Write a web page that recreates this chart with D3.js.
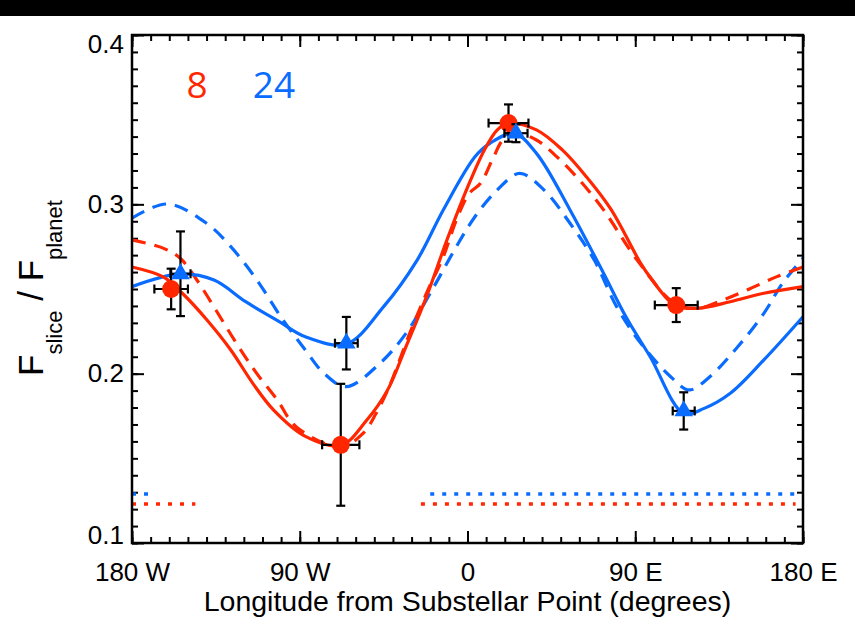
<!DOCTYPE html>
<html>
<head>
<meta charset="utf-8">
<script src="https://cdn.jsdelivr.net/npm/d3@7"></script>
<style>
  body { margin: 0; background: #fff; }
  svg { display: block; }
</style>
</head>
<body>
<div id="chart-area"></div>
<script>
// axis ticks / labels
const lonTicks = [-180, -90, 0, 90, 180];
const lonLabels = ["180 W", "90 W", "0", "90 E", "180 E"];
const fluxTicks = [0.1, 0.2, 0.3, 0.4];
const fluxLabels = ["0.1", "0.2", "0.3", "0.4"];

// measured slices (8 = red circles, 24 = blue triangles)
const lon8 = [-159, -68, 22, 112];
const flux8 = [0.250, 0.158, 0.348, 0.2405];
const lonErr8 = [9, 10, 10.7, 11.5];
const fluxErr8 = [0.012, 0.036, 0.011, 0.010];

const lon24 = [-154, -65, 26, 116];
const flux24 = [0.259, 0.218, 0.342, 0.178];
const lonErr24 = [5.4, 6.1, 6.2, 5.9];
const fluxErr24 = [0.025, 0.0155, 0.0053, 0.011];

// model curves
const redSolidLon = [-180, -163, -153, -140, -127, -115, -104, -87, -68, -54, -43, -33, -22, -11, 0, 9, 16, 22, 37, 51, 64, 77, 93, 98, 111, 123, 141, 159, 180];
const redSolidVal = [0.263, 0.257, 0.2475, 0.232, 0.214, 0.194, 0.1785, 0.163, 0.1576, 0.1726, 0.190, 0.216, 0.2455, 0.279, 0.310, 0.332, 0.344, 0.348, 0.344, 0.332, 0.316, 0.297, 0.265, 0.257, 0.2406, 0.2386, 0.2425, 0.2475, 0.2514];

const redDashLon = [-180, -163, -154, -145, -135, -124, -113, -102, -92, -68, -56, -49, -42, -31, -22, -13, -6, 1, 7, 14, 19, 26, 37, 48, 60, 73, 91, 111, 123, 137, 150, 166, 180];
const redDashVal = [0.279, 0.274, 0.268, 0.255, 0.2376, 0.218, 0.200, 0.1844, 0.1687, 0.1567, 0.1648, 0.1766, 0.1923, 0.2238, 0.2475, 0.269, 0.2907, 0.3065, 0.3124, 0.328, 0.338, 0.342, 0.338, 0.328, 0.3144, 0.2967, 0.2671, 0.2417, 0.2386, 0.2435, 0.2494, 0.2573, 0.263];

const blueSolidLon = [-180, -154, -136, -119, -101, -87, -65, -45, -27, -13, 4, 12, 25, 37, 55, 73, 85, 98, 116, 127, 141, 159, 180];
const blueSolidVal = [0.2514, 0.2589, 0.2553, 0.2425, 0.2307, 0.2218, 0.2175, 0.2396, 0.2671, 0.2967, 0.3281, 0.336, 0.3419, 0.3301, 0.2967, 0.2593, 0.2336, 0.210, 0.1766, 0.1795, 0.1884, 0.2081, 0.2336];

const blueDashLon = [-180, -161, -140, -127, -113, -99, -87, -77, -65, -47, -33, -18, -6, 4, 16, 28, 41, 55, 68, 80, 93, 109, 119, 130, 145, 159, 169, 180];
const blueDashVal = [0.2919, 0.3002, 0.2888, 0.275, 0.2553, 0.2317, 0.214, 0.2002, 0.1923, 0.2061, 0.2238, 0.2514, 0.275, 0.2927, 0.3085, 0.3183, 0.3085, 0.2888, 0.2671, 0.2396, 0.2179, 0.1982, 0.1904, 0.1982, 0.2159, 0.2356, 0.2534, 0.2681];

// dotted floor levels
const floor8 = 0.123;
const floor24 = 0.129;
const floorSpans8 = [[-180, -146], [-25, 176]];
const floorSpans24 = [[-180, -171], [-20, 180]];

const red = "#ff2600";
const blue = "#0a6cff";
const font = "'Liberation Sans', Arial, Helvetica, sans-serif";

const W = 855, H = 637;
const plot = { left: 132, right: 803, top: 35, bottom: 543 };

const svg = d3.select("#chart-area")
    .append("svg")
    .attr("width", W)
    .attr("height", H);

svg.append("rect").attr("width", W).attr("height", H).attr("fill", "#fff");
svg.append("rect").attr("width", W).attr("height", 16).attr("fill", "#000");

const x = d3.scaleLinear().domain([-180, 180]).range([plot.left, plot.right]);
const y = d3.scaleLinear().domain([0.1, 0.4]).range([plot.bottom, plot.top]);

const g = svg.append("g");

// ticks, all pointing inward
function tickAxis(axisFn, scale, values, size, tx, ty) {
    const a = g.append("g")
        .attr("transform", `translate(${tx},${ty})`)
        .call(axisFn(scale).tickValues(values).tickSize(-size).tickFormat(""));
    a.select(".domain").remove();
    a.selectAll("line").attr("stroke", "#000").attr("stroke-width", 2);
    return a;
}
const minorX = x.ticks(36);
const minorY = y.ticks(30);
tickAxis(d3.axisBottom, x, minorX, 6, 0, plot.bottom);
tickAxis(d3.axisTop, x, minorX, 6, 0, plot.top);
tickAxis(d3.axisLeft, y, minorY, 6, plot.left, 0);
tickAxis(d3.axisRight, y, minorY, 6, plot.right, 0);
tickAxis(d3.axisBottom, x, lonTicks, 12, 0, plot.bottom);
tickAxis(d3.axisTop, x, lonTicks, 12, 0, plot.top);
tickAxis(d3.axisLeft, y, fluxTicks, 12, plot.left, 0);
tickAxis(d3.axisRight, y, fluxTicks, 12, plot.right, 0);

// labels
const xLab = g.append("g")
    .attr("transform", `translate(0,${plot.bottom})`)
    .call(d3.axisBottom(x).tickValues(lonTicks).tickSize(0).tickPadding(20)
        .tickFormat((d, i) => lonLabels[i]));
xLab.select(".domain").remove();
xLab.selectAll("text").attr("font-family", font).attr("font-size", "26px").attr("fill", "#000");

const yLab = g.append("g")
    .attr("transform", `translate(${plot.left},0)`)
    .call(d3.axisLeft(y).tickValues(fluxTicks).tickSize(0).tickPadding(8)
        .tickFormat((d, i) => fluxLabels[i]));
yLab.select(".domain").remove();
yLab.selectAll("text").attr("font-family", font).attr("font-size", "26px").attr("fill", "#000")
    .attr("y", d => d === 0.4 ? 9 : d === 0.1 ? -8 : 0);

g.append("text")
    .attr("x", (plot.left + plot.right) / 2)
    .attr("y", 611)
    .attr("text-anchor", "middle")
    .attr("font-family", font)
    .attr("font-size", "28.5px")
    .text("Longitude from Substellar Point (degrees)");

const yTitle = g.append("text")
    .attr("transform", "translate(43,288) rotate(-90)")
    .attr("text-anchor", "middle")
    .attr("font-family", font);
yTitle.append("tspan").attr("font-size", "35px").text("F");
yTitle.append("tspan").attr("font-size", "22px").attr("dy", 19).text("slice");
yTitle.append("tspan").attr("font-size", "35px").attr("dy", -19).text(" / F");
yTitle.append("tspan").attr("font-size", "22px").attr("dy", 19).text("planet");

// legend numbers
g.append("text").attr("x", 197).attr("y", 98).attr("text-anchor", "middle")
    .attr("font-family", "'Open Sans', sans-serif").attr("font-size", "37px")
    .attr("fill", red).text("8");
g.append("text").attr("x", 274).attr("y", 98).attr("text-anchor", "middle")
    .attr("font-family", "'Open Sans', sans-serif").attr("font-size", "37px")
    .attr("fill", blue).text("24");

// dotted floors
const floors = [[floorSpans24, floor24, blue], [floorSpans8, floor8, red]];
floors.forEach(([spans, lvl, col]) => {
    g.selectAll(null).data(spans).enter()
        .append("line")
        .attr("x1", d => x(d[0])).attr("x2", d => x(d[1]))
        .attr("y1", y(lvl)).attr("y2", y(lvl))
        .attr("stroke", col).attr("stroke-width", 3.5)
        .attr("stroke-dasharray", "4,8");
});

// model curves
const line = d3.line()
    .x(d => x(d[0]))
    .y(d => y(d[1]))
    .curve(d3.curveCatmullRom.alpha(0.5));

const curves = [
    [blueDashLon, blueDashVal, blue, "14,9"],
    [redDashLon, redDashVal, red, "14,9"],
    [blueSolidLon, blueSolidVal, blue, null],
    [redSolidLon, redSolidVal, red, null]
];
curves.forEach(([lons, vals, col, dash]) => {
    g.append("path")
        .datum(d3.zip(lons, vals))
        .attr("d", line)
        .attr("fill", "none")
        .attr("stroke", col)
        .attr("stroke-width", 3.2)
        .attr("stroke-dasharray", dash);
});

// error bars + markers
function errorBars(lons, vals, lonErr, valErr) {
    const data = d3.zip(lons, vals, lonErr, valErr);
    const eb = g.append("g").attr("stroke", "#000").attr("stroke-width", 2.2);
    const cap = 4.5;
    data.forEach(([lo, v, el, ev]) => {
        const cx = x(lo), cy = y(v);
        eb.append("line").attr("x1", x(lo - el)).attr("x2", x(lo + el)).attr("y1", cy).attr("y2", cy);
        eb.append("line").attr("x1", cx).attr("x2", cx).attr("y1", y(v - ev)).attr("y2", y(v + ev));
        eb.append("line").attr("x1", x(lo - el)).attr("x2", x(lo - el)).attr("y1", cy - cap).attr("y2", cy + cap);
        eb.append("line").attr("x1", x(lo + el)).attr("x2", x(lo + el)).attr("y1", cy - cap).attr("y2", cy + cap);
        eb.append("line").attr("x1", cx - cap).attr("x2", cx + cap).attr("y1", y(v - ev)).attr("y2", y(v - ev));
        eb.append("line").attr("x1", cx - cap).attr("x2", cx + cap).attr("y1", y(v + ev)).attr("y2", y(v + ev));
    });
}

errorBars(lon8, flux8, lonErr8, fluxErr8);
g.selectAll(null).data(d3.zip(lon8, flux8)).enter()
    .append("circle")
    .attr("cx", d => x(d[0])).attr("cy", d => y(d[1]))
    .attr("r", 9)
    .attr("fill", red);

errorBars(lon24, flux24, lonErr24, fluxErr24);
g.selectAll(null).data(d3.zip(lon24, flux24)).enter()
    .append("path")
    .attr("d", d3.symbol(d3.symbolTriangle, 150))
    .attr("transform", d => `translate(${x(d[0])},${y(d[1])})`)
    .attr("fill", blue);

// frame
g.append("rect")
    .attr("x", plot.left).attr("y", plot.top)
    .attr("width", plot.right - plot.left).attr("height", plot.bottom - plot.top)
    .attr("fill", "none").attr("stroke", "#000").attr("stroke-width", 2.5);
</script>
</body>
</html>
